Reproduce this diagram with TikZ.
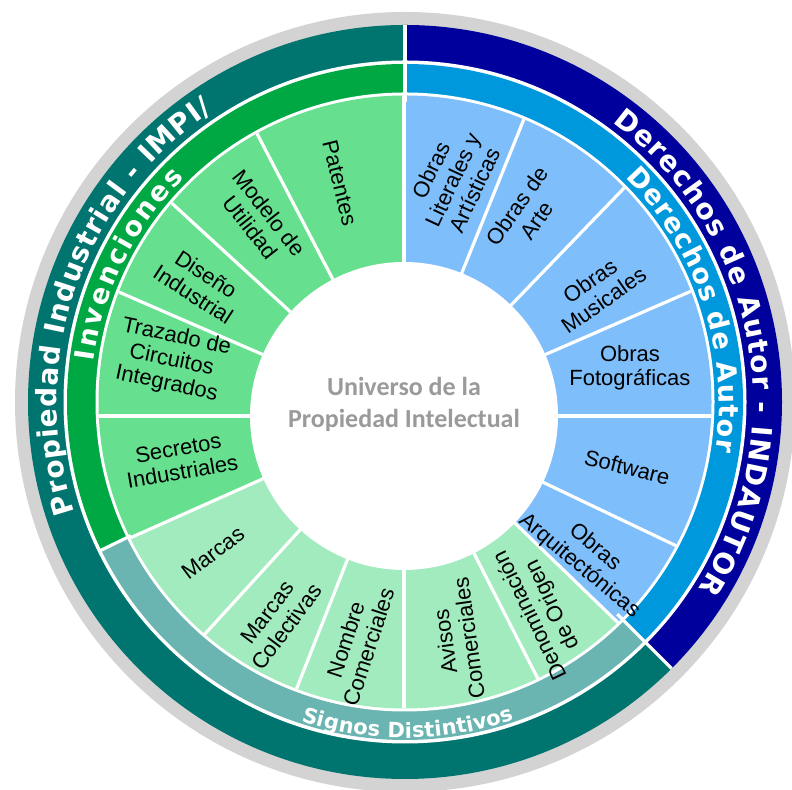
\documentclass[tikz,border=0pt]{standalone}
\usepackage{fontspec}
\setmainfont{Liberation Sans}
\newfontfamily\ringfamily{DejaVu Sans}
\newfontfamily\hubfamily{Carlito}
\usepackage{xcolor}
\usepackage{tikz}
\usetikzlibrary{decorations.text}

\definecolor{shadowgray}{HTML}{D3D3D3}
\definecolor{impiteal}{HTML}{00746F}
\definecolor{autorblue}{HTML}{00009C}
\definecolor{invgreen}{HTML}{00A843}
\definecolor{autorsky}{HTML}{0098DC}
\definecolor{signosteal}{HTML}{6AB4B1}
\definecolor{invleaf}{HTML}{66E08F}
\definecolor{signosleaf}{HTML}{A2EBBE}
\definecolor{obrasblue}{HTML}{7EBEFA}
\definecolor{hubgray}{HTML}{9A9A9A}

\begin{document}
\begin{tikzpicture}[x=0.5pt, y=0.5pt]
    \tikzstyle{segtext} = [text=black, align=center, font=\fontsize{11}{12}\selectfont, inner sep=0pt]
    \tikzstyle{divider} = [draw=white, line width=1.6pt]
    \tikzstyle{ringtext} = [decorate, decoration={text along path, text align=fit to path, text color=white}]

    \useasboundingbox (0,0) rectangle (792,790);
    \coordinate (C) at (405,388);   % centre of the rings
    \coordinate (O) at (404,374);   % centre of the hub

    % Shadow and outer ring
    \fill[shadowgray] (C) circle (390);
    \fill[impiteal] (C) -- ++(90:377) arc[start angle=90, end angle=315, radius=377] -- cycle;
    \fill[autorblue] (C) -- ++(-45:377) arc[start angle=-45, end angle=90, radius=377] -- cycle;
    \fill[white] (C) circle (341.5);

    % Middle ring
    \fill[invgreen] (C) -- ++(90:338) arc[start angle=90, end angle=206, radius=338] -- cycle;
    \fill[signosteal] (C) -- ++(206:338) arc[start angle=206, end angle=315, radius=338] -- cycle;
    \fill[autorsky] (C) -- ++(-45:338) arc[start angle=-45, end angle=90, radius=338] -- cycle;
    \fill[white] (C) circle (309.5);

    % Segments
    \begin{scope}
        \clip (C) circle (306.5);
        \fill[invleaf] (O) -- ++(90:400) arc[start angle=90, end angle=204, radius=400] -- cycle;
        \fill[signosleaf] (O) -- ++(204:400) arc[start angle=204, end angle=316, radius=400] -- cycle;
        \fill[obrasblue] (O) -- ++(-44:400) arc[start angle=-44, end angle=90, radius=400] -- cycle;
        \foreach \a in {90,117.5,137.5,156.5,180,204,227.6,248.5,270,297,316,334.5,0,23.5,46,68}
            \draw[divider] (O) -- ++(\a:400);
    \end{scope}

    % Ring dividers
    \draw[divider] ([shift={(90:300)}]C) -- ([shift={(90:377)}]C);
    \draw[divider] ([shift={(-45:300)}]C) -- ([shift={(-45:377)}]C);
    \draw[divider] ([shift={(206:305)}]C) -- ([shift={(206:341)}]C);

    % Hub
    \fill[white] (O) circle (154);
    \node[text=hubgray, align=center, font=\hubfamily\bfseries\fontsize{13}{16}\selectfont] (hub) at (404,386) {Universo de la\\Propiedad Intelectual};

    % Ring titles
    \path[ringtext, decoration={text={|\ringfamily\bfseries\fontsize{14}{14}\selectfont|Propiedad Industrial - IMPI/}}]
        ([shift={(198.5:348)}]C) arc[start angle=198.5, end angle=123.5, radius=348];
    \path[ringtext, decoration={text={|\ringfamily\bfseries\fontsize{14}{14}\selectfont|Derechos de Autor - INDAUTOR}}]
        ([shift={(53.5:348)}]C) arc[start angle=53.5, end angle=-32.5, radius=348];
    \path[ringtext, decoration={text={|\ringfamily\bfseries\fontsize{13.5}{13.5}\selectfont|Invenciones}}]
        ([shift={(172.5:314)}]C) arc[start angle=172.5, end angle=134.5, radius=314];
    \path[ringtext, decoration={text={|\ringfamily\bfseries\fontsize{13.5}{13.5}\selectfont|Derechos de Autor}}]
        ([shift={(45.5:314)}]C) arc[start angle=45.5, end angle=-9, radius=314];
    \path[ringtext, decoration={text={|\ringfamily\bfseries\fontsize{10.5}{10.5}\selectfont|Signos Distintivos}}]
        ([shift={(252:336)}]C) arc[start angle=252, end angle=289, radius=336];

    % Invenciones
    \node[segtext, rotate=-76] (patentes) at ([shift={(105.4:241.6)}]O) {Patentes};
    \node[segtext, rotate=-52] (modelo) at ([shift={(126.3:243)}]O) {Modelo de\\Utilidad};
    \node[segtext, rotate=-33] (diseno) at ([shift={(147.2:243)}]O) {Diseño\\Industrial};
    \node[segtext, rotate=-12] (trazado) at ([shift={(166.6:239)}]O) {Trazado de\\Circuitos\\Integrados};
    \node[segtext, rotate=10] (secretos) at ([shift={(191.1:228)}]O) {Secretos\\Industriales};

    % Signos Distintivos
    \node[segtext, rotate=37] (marcas) at ([shift={(215.6:235)}]O) {Marcas};
    \node[segtext, rotate=53] (colectivas) at ([shift={(238.1:240)}]O) {Marcas\\Colectivas};
    \node[segtext, rotate=72] (nombre) at ([shift={(258.3:232)}]O) {Nombre\\Comerciales};
    \node[segtext, rotate=98] (avisos) at ([shift={(283.3:230)}]O) {Avisos\\Comerciales};
    \node[segtext, rotate=116] (denominacion) at ([shift={(305.4:238)}]O) {Denominación\\de Origen};

    % Derechos de Autor
    \node[segtext, rotate=-40] (arquitectonicas) at ([shift={(322.4:231)}]O) {Obras\\Arquitectónicas};
    \node[segtext, rotate=-14] (software) at ([shift={(347.1:229)}]O) {Software};
    \node[segtext] (fotograficas) at ([shift={(12:231)}]O) {Obras\\Fotográficas};
    \node[segtext, rotate=35] (musicales) at ([shift={(33.1:230)}]O) {Obras\\Musicales};
    \node[segtext, rotate=55] (arte) at ([shift={(58.8:237)}]O) {Obras de\\Arte};
    \node[segtext, rotate=65] (literales) at ([shift={(78.3:241)}]O) {Obras\\Literales y\\Artísticas};
\end{tikzpicture}
\end{document}
